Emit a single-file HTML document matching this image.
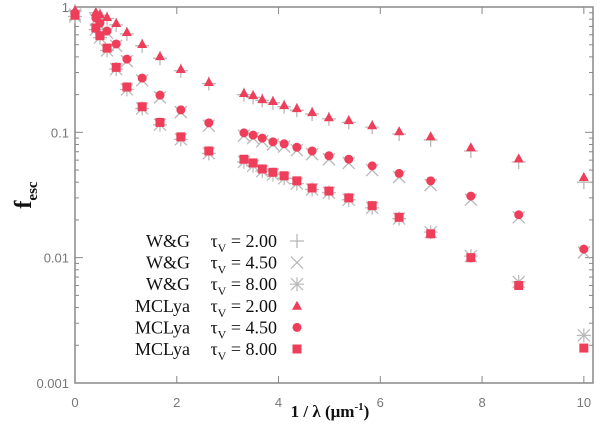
<!DOCTYPE html>
<html><head><meta charset="utf-8"><style>
html,body{margin:0;padding:0;background:#fff;}
svg{display:block;}
</style></head><body>
<svg id="chart" width="600" height="434" xmlns="http://www.w3.org/2000/svg"></svg>
<script>
const xVals=[0,0.41,0.49,0.63,0.81,1.02,1.32,1.67,2.08,2.63,3.32,3.50,3.68,3.89,4.11,4.36,4.66,4.99,5.38,5.84,6.37,6.99,7.78,8.72,10.0];
const mcl2=[0.946,0.912,0.879,0.832,0.745,0.632,0.507,0.406,0.32,0.252,0.206,0.198,0.184,0.178,0.165,0.156,0.145,0.132,0.125,0.114,0.102,0.093,0.076,0.062,0.044];
const mcl45=[0.895,0.817,0.745,0.643,0.507,0.384,0.271,0.198,0.151,0.119,0.099,0.095,0.090,0.084,0.081,0.076,0.071,0.065,0.061,0.054,0.047,0.041,0.031,0.022,0.0117];
const mcl8=[0.86,0.68,0.59,0.47,0.33,0.23,0.16,0.12,0.092,0.071,0.061,0.057,0.051,0.048,0.045,0.041,0.036,0.034,0.030,0.026,0.021,0.0155,0.010,0.006,0.0019];
const wg2=[0.93,0.90,0.86,0.81,0.72,0.61,0.49,0.39,0.31,0.245,0.20,0.19,0.18,0.172,0.16,0.15,0.14,0.128,0.12,0.11,0.097,0.087,0.071,0.058,0.040];
const wg45=[0.87,0.79,0.72,0.62,0.49,0.37,0.26,0.19,0.145,0.113,0.094,0.09,0.085,0.08,0.077,0.072,0.067,0.061,0.057,0.05,0.044,0.038,0.029,0.021,0.011];
const wg8=[0.84,0.66,0.57,0.45,0.32,0.22,0.155,0.115,0.088,0.068,0.058,0.054,0.049,0.046,0.043,0.039,0.035,0.033,0.029,0.025,0.0205,0.016,0.0103,0.0064,0.0024];
const xTicks=[0,2,4,6,8,10];
const yTicks=[1,0.1,0.01,0.001];
const yTickLabels=["1","0.1","0.01","0.001"];
const legendLabels=[["W&G","2.00"],["W&G","4.50"],["W&G","8.00"],["MCLya","2.00"],["MCLya","4.50"],["MCLya","8.00"]];

const L=75,R=593,T=7,B=383,X0=0,X1=10.18;
const xs=v=>L+(v-X0)/(X1-X0)*(R-L);
const ys=v=>T+(-Math.log10(v))/3*(B-T);
const svg=document.getElementById('chart');
const NS='http://www.w3.org/2000/svg';
function mk(tag,attrs,parent){const e=document.createElementNS(NS,tag);for(const k in attrs)e.setAttribute(k,attrs[k]);(parent||svg).appendChild(e);return e;}

const frame=mk('rect',{x:L,y:T,width:R-L,height:B-T,fill:'none',stroke:'#888','stroke-width':1.5});



// x ticks
xTicks.forEach(t=>{
  const x=xs(t);
  mk('line',{x1:x,x2:x,y1:B,y2:B-7,stroke:'#888'});
  mk('line',{x1:x,x2:x,y1:T,y2:T+7,stroke:'#888'});
  const tx=mk('text',{x:x,y:B+24,'text-anchor':'middle','font-family':'Liberation Sans, sans-serif','font-size':13,fill:'#777'});
  tx.textContent=t;
  
  
});
// y ticks
yTicks.forEach((t,i)=>{
  const y=ys(t);
  mk('line',{x1:L,x2:L+8,y1:y,y2:y,stroke:'#888'});
  mk('line',{x1:R,x2:R-8,y1:y,y2:y,stroke:'#888'});
  const tx=mk('text',{x:L-6,y:y+5,'text-anchor':'end','font-family':'Liberation Sans, sans-serif','font-size':13,fill:'#777'});
  tx.textContent=yTickLabels[i];
  
  
  if(i<yTicks.length-1){
    for(let m=2;m<10;m++){
      const yy=ys(t/10*m);
      mk('line',{x1:L,x2:L+4,y1:yy,y2:yy,stroke:'#888'});
      mk('line',{x1:R,x2:R-4,y1:yy,y2:yy,stroke:'#888'});
    }
  }
});

const gray='#b8b8b8',red='#ef3e5a';
function plus(g,x,y){mk('path',{d:`M${x-7} ${y}H${x+7}M${x} ${y-7}V${y+7}`,stroke:gray,'stroke-width':1.3},g);}
function cross(g,x,y){mk('path',{d:`M${x-6} ${y-6}L${x+6} ${y+6}M${x-6} ${y+6}L${x+6} ${y-6}`,stroke:gray,'stroke-width':1.3},g);}
function star(g,x,y){mk('path',{d:`M${x-6} ${y-6}L${x+6} ${y+6}M${x-6} ${y+6}L${x+6} ${y-6}M${x-7} ${y}H${x+7}M${x} ${y-7}V${y+7}`,stroke:gray,'stroke-width':1.2},g);}
function tri(g,x,y){mk('path',{d:`M${x} ${y-5}L${x+5} ${y+4}L${x-5} ${y+4}Z`,fill:red},g);}
function circ(g,x,y){mk('circle',{cx:x,cy:y,r:4.5,fill:red},g);}
function sq(g,x,y){mk('rect',{x:x-4.5,y:y-4.5,width:9,height:9,fill:red},g);}

const series=[[wg2,plus,'wg-tau-2'],[wg45,cross,'wg-tau-4-5'],[wg8,star,'wg-tau-8'],[mcl2,tri,'mclya-tau-2'],[mcl45,circ,'mclya-tau-4-5'],[mcl8,sq,'mclya-tau-8']];
series.forEach(([vals,fn,name])=>{
  const g=mk('g',{});
  
  
  vals.forEach((v,i)=>fn(g,xs(xVals[i]),ys(v)));
});

// legend
const lg=mk('g',{});


const fns=[plus,cross,star,tri,circ,sq];
legendLabels.forEach((lb,i)=>{
  const y=241+i*21.6;
  const e=mk('g',{},lg);
  
  
  const t1=mk('text',{x:190,y:y+6,'text-anchor':'end','font-family':'Liberation Serif, serif','font-size':18,fill:'#111'},e);
  t1.textContent=lb[0];
  const t2=mk('text',{x:277,y:y+6,'text-anchor':'end','font-family':'Liberation Serif, serif','font-size':18,fill:'#111'},e);
  t2.innerHTML='τ<tspan font-size="12" dy="5">V</tspan><tspan dy="-5"> = '+lb[1]+'</tspan>';
  fns[i](e,297,y);
});

const xl=mk('text',{x:330,y:417,'text-anchor':'middle','font-family':'Liberation Serif, serif','font-size':17,'font-weight':'bold',fill:'#111'});
xl.innerHTML='1 / λ (μm<tspan font-size="11" dy="-7">-1</tspan><tspan dy="7">)</tspan>';


const yl=mk('text',{x:0,y:0,'text-anchor':'middle','font-family':'Liberation Serif, serif','font-size':24,'font-weight':'bold',fill:'#111',transform:'translate(31,195) rotate(-90)'});
yl.innerHTML='f<tspan font-size="15" dy="6">esc</tspan>';


</script>
</body></html>
